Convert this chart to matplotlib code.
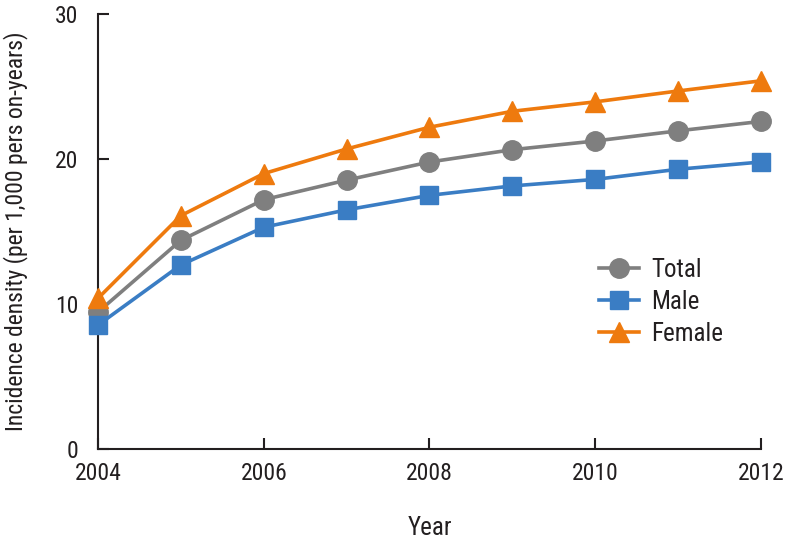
import matplotlib.pyplot as plt
from matplotlib import font_manager

years = [2004, 2005, 2006, 2007, 2008, 2009, 2010, 2011, 2012]
total = [9.45, 14.4, 17.2, 18.55, 19.8, 20.65, 21.25, 21.95, 22.6]
male = [8.55, 12.7, 15.3, 16.5, 17.5, 18.15, 18.6, 19.3, 19.8]
female = [10.4, 16.1, 19.0, 20.7, 22.2, 23.3, 23.95, 24.7, 25.4]

xticks = [2004, 2006, 2008, 2010, 2012]
yticks = [0, 10, 20, 30]

names = {f.name for f in font_manager.fontManager.ttflist}
fam = [f for f in ['Liberation Sans Narrow', 'Roboto Condensed', 'Roboto', 'DejaVu Sans'] if f in names]
plt.rcParams['font.family'] = fam

txt = '#231f20'

fig = plt.figure(figsize=(7.88, 5.44), dpi=100)
ax = fig.add_axes([0.1244, 0.1746, 0.8413, 0.7994])

ax.plot(years, total, color='#7f7f7f', lw=2.6, marker='o', ms=14, label='Total', clip_on=False, zorder=3)
ax.plot(years, male, color='#3a7dc4', lw=2.6, marker='s', ms=13, label='Male', clip_on=False, zorder=3)
ax.plot(years, female, color='#ee7a0e', lw=2.6, marker='^', ms=14, label='Female', clip_on=False, zorder=3)

ax.set_xlim(2004, 2012)
ax.set_ylim(0, 30)
ax.set_xticks(xticks)
ax.set_yticks(yticks)
ax.spines['top'].set_visible(False)
ax.spines['right'].set_visible(False)
for s in ['left', 'bottom']:
    ax.spines[s].set_linewidth(1.5)
    ax.spines[s].set_color(txt)
ax.tick_params(direction='in', length=8, width=1.5, labelsize=17, colors=txt)
ax.tick_params(axis='y', pad=14)
ax.tick_params(axis='x', pad=9)

ax.set_xlabel('Year', fontsize=18, color=txt)
ax.set_ylabel('Incidence density (per 1,000 pers on-years)', fontsize=17, color=txt)
ax.xaxis.set_label_coords(0.5, -0.155)
ax.yaxis.set_label_coords(-0.105, 0.5)

ax.legend(loc='upper left', bbox_to_anchor=(0.74, 0.462), frameon=False, fontsize=18,
          handlelength=1.6, handletextpad=0.5, labelspacing=0.32, labelcolor=txt,
          borderaxespad=0)

fig.savefig('out.png', dpi=100)
